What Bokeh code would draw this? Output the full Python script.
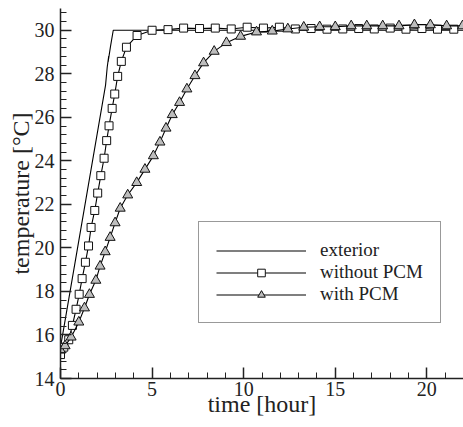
from bokeh.plotting import figure
from bokeh.models import Range1d, SingleIntervalTicker, Legend, LegendItem
from bokeh.embed import file_html
from bokeh.resources import INLINE

# ---- data ----
exterior_x = [0.0, 2.46, 2.55, 2.63, 2.60, 2.73, 2.88, 22.0]
exterior_y = [15.44, 27.48, 28.30, 28.80, 28.55, 29.26, 30.0, 30.0]

without_x = [0.0, 0.18, 0.45, 0.65, 0.85, 1.02, 1.18, 1.36, 1.53, 1.67, 1.87,
             2.03, 2.20, 2.38, 2.52, 2.65, 2.82, 2.96, 3.12, 3.32, 3.60, 4.18,
             5.00, 5.87, 6.72, 7.59, 8.45, 9.32, 10.19, 11.08, 11.95, 12.82,
             13.68, 14.55, 15.41, 16.28, 17.13, 18.00, 18.86, 19.73, 20.58, 21.47]
without_y = [15.10, 15.44, 15.78, 16.44, 17.18, 17.87, 18.59, 19.34, 20.09, 20.94, 21.72,
             22.52, 23.32, 24.12, 24.93, 25.61, 26.41, 27.07, 27.88, 28.57, 29.22, 29.76,
             30.00, 30.03, 30.10, 30.08, 30.10, 30.06, 30.14, 30.10, 30.14, 30.06,
             30.08, 30.05, 30.06, 30.08, 30.06, 30.10, 30.05, 30.08, 30.05, 30.05]

with_x = [0.0, 0.25, 0.58, 1.00, 1.31, 1.58, 1.93, 2.16, 2.44, 2.71, 2.98, 3.26,
          3.67, 4.16, 4.61, 5.07, 5.43, 5.76, 6.10, 6.50, 6.90, 7.34, 7.81, 8.39,
          9.06, 9.83, 10.70, 11.56, 12.41, 13.28, 14.15, 15.00, 15.87, 16.72,
          17.59, 18.48, 19.32, 20.19, 21.08, 21.95]
with_y = [15.30, 15.50, 15.90, 16.59, 17.24, 17.86, 18.51, 19.16, 19.82, 20.48, 21.15, 21.82,
          22.43, 23.00, 23.61, 24.23, 24.86, 25.50, 26.12, 26.68, 27.30, 27.91, 28.50, 29.03,
          29.43, 29.72, 29.92, 29.96, 30.06, 30.14, 30.16, 30.16, 30.20, 30.20,
          30.20, 30.20, 30.25, 30.25, 30.20, 30.20]

labels = ["exterior", "without PCM", "with PCM"]

FONT = "Liberation Serif"
INK = "#222222"

p = figure(width=463, height=427, output_backend="svg", toolbar_location=None,
           x_range=Range1d(0, 22), y_range=Range1d(14, 31))
p.min_border_left = 60
p.min_border_right = 0
p.min_border_top = 8
p.min_border_bottom = 49
p.outline_line_color = None
p.xgrid.visible = False
p.ygrid.visible = False
p.background_fill_color = "white"
p.border_fill_color = "white"

r_ext = p.line(exterior_x, exterior_y, line_color="black", line_width=1.1)
l_wo = p.line(without_x, without_y, line_color="black", line_width=1.1)
s_wo = p.scatter(without_x, without_y, marker="square", size=8,
                 fill_color="white", line_color="#111111", line_width=1)
l_w = p.line(with_x, with_y, line_color="black", line_width=1.1)
s_w = p.scatter(with_x, with_y, marker="triangle", size=10,
                fill_color="#bdbdbd", line_color="#111111", line_width=1)

for ax, interval, lab in ((p.xaxis[0], 5, "time [hour]"),
                          (p.yaxis[0], 2, "temperature [°C]")):
    ax.ticker = SingleIntervalTicker(interval=interval, num_minor_ticks=5)
    ax.axis_label = lab
    ax.axis_label_text_font = FONT
    ax.axis_label_text_font_size = "24px"
    ax.axis_label_text_font_style = "normal"
    ax.axis_label_text_color = INK
    ax.major_label_text_font = FONT
    ax.major_label_text_font_size = "20px"
    ax.major_label_text_color = INK
    ax.axis_line_color = INK
    ax.axis_line_width = 1.5
    ax.major_tick_line_color = INK
    ax.major_tick_line_width = 1.5
    ax.minor_tick_line_color = INK
    ax.minor_tick_line_width = 1
    ax.major_tick_in = 11
    ax.major_tick_out = 0
    ax.minor_tick_in = 6
    ax.minor_tick_out = 0

p.xaxis[0].major_label_standoff = 3
p.xaxis[0].axis_label_standoff = -8
p.yaxis[0].major_label_standoff = 6
p.yaxis[0].axis_label_standoff = -2

legend = Legend(items=[LegendItem(label=labels[0], renderers=[r_ext]),
                       LegendItem(label=labels[1], renderers=[l_wo, s_wo]),
                       LegendItem(label=labels[2], renderers=[l_w, s_w])],
                location=(138, 55))
legend.label_text_font = FONT
legend.label_text_font_size = "19px"
legend.label_text_color = INK
legend.glyph_width = 90
legend.glyph_height = 19
legend.label_height = 19
legend.spacing = 0
legend.padding = 17
legend.label_standoff = 14
legend.margin = 0
legend.border_line_color = "#333333"
legend.border_line_width = 1
legend.background_fill_color = "white"
legend.background_fill_alpha = 1
p.add_layout(legend, "center")

open("out.html", "w").write(file_html(p, INLINE))
